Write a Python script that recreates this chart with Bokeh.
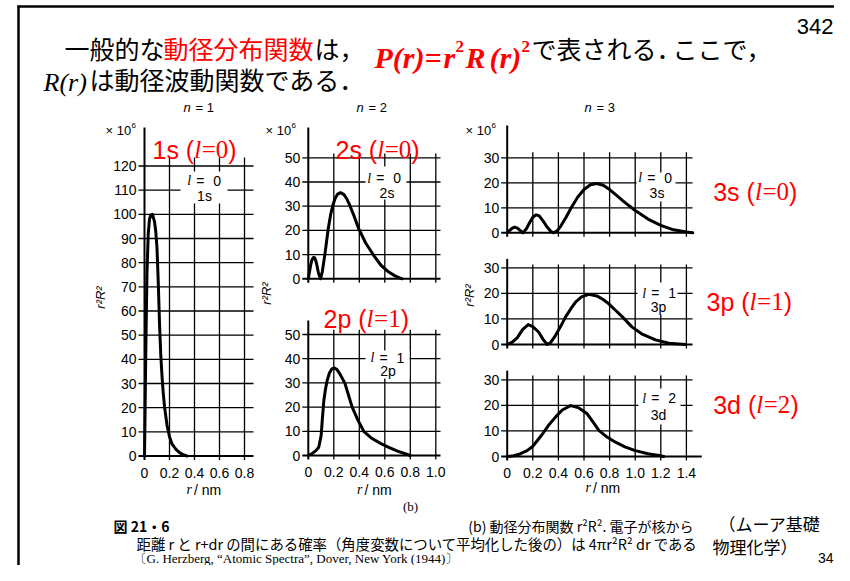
import math
from bokeh.plotting import figure
from bokeh.models import Range1d
from bokeh.embed import file_html
from bokeh.resources import INLINE
from bokeh.core.properties import value

# ---------------- data (r in nm, r^2R^2 in units of 10^6) ----------------
r_1s = [0, 0.005, 0.01, 0.02, 0.03, 0.04, 0.05, 0.064, 0.08, 0.09, 0.10, 0.11, 0.12, 0.13,
        0.14, 0.15, 0.16, 0.18, 0.20, 0.22, 0.25, 0.28, 0.31, 0.34]
P_1s = [0, 20, 42, 76, 92, 98, 99.7, 100, 97, 93, 86, 72, 55, 42,
        33, 26, 20.5, 12.8, 8, 5, 2.8, 1.4, 0.5, 0]

r_2s = [0, 0.01, 0.02, 0.03, 0.04, 0.05, 0.06, 0.07, 0.08, 0.096, 0.11, 0.13, 0.156, 0.175,
        0.192, 0.21, 0.23, 0.253, 0.28, 0.30, 0.326, 0.36, 0.396, 0.45, 0.514, 0.57, 0.631,
        0.68, 0.736]
P_2s = [0, 3, 6, 8, 8.8, 8.7, 7.3, 5, 2.3, 0, 3, 10, 20.6, 26.5,
        30.3, 33.2, 35, 35.6, 34.8, 33.2, 30.3, 25.8, 20.6, 14.8, 9.6, 5.6, 2.8,
        1.2, 0]

r_2p = [0, 0.03, 0.06, 0.082, 0.101, 0.11, 0.122, 0.135, 0.148, 0.165, 0.185, 0.205, 0.225,
        0.25, 0.286, 0.315, 0.344, 0.39, 0.435, 0.5, 0.57, 0.631, 0.7, 0.8]
P_2p = [0, 0.8, 2, 3.4, 8.3, 15, 22.7, 27.5, 31, 34, 35.8, 36.2, 35.5,
        33.5, 30, 25, 20, 14.5, 10, 7.0, 4.9, 3.4, 1.8, 0]

r_3s = [0, 0.02, 0.04, 0.058, 0.08, 0.1, 0.123, 0.15, 0.18, 0.2, 0.227, 0.25, 0.28, 0.31,
        0.34, 0.363, 0.39, 0.42, 0.46, 0.5, 0.55, 0.6, 0.65, 0.7, 0.75, 0.8, 0.85, 0.9,
        0.95, 1.0, 1.05, 1.1, 1.2, 1.3, 1.4, 1.45]
P_3s = [0, 1.0, 1.9, 2.3, 1.9, 1.0, 0, 1.6, 4.5, 6.2, 7.2, 6.8, 4.8, 2.4,
        0.6, 0, 0.8, 2.8, 6.2, 10.0, 14.2, 17.3, 19.2, 19.7, 19.0, 17.3, 15.2, 13.0,
        10.9, 8.9, 7.2, 5.5, 3.0, 1.2, 0.3, 0]

r_3p = [0, 0.04, 0.078, 0.12, 0.164, 0.2, 0.247, 0.28, 0.3125, 0.34, 0.377, 0.42, 0.455,
        0.5, 0.534, 0.58, 0.638, 0.7, 0.75, 0.794, 0.85, 0.9, 0.976, 1.05, 1.159, 1.263, 1.393]
P_3p = [0, 0.9, 2.6, 5.8, 7.8, 7.0, 4.8, 2.0, 0, 0.8, 3.5, 7.3, 10.7,
        14.2, 16.6, 18.6, 19.6, 19.0, 17.6, 15.9, 13.2, 10.8, 6.8, 4.2, 1.8, 0.5, 0]

r_3d = [0, 0.05, 0.1, 0.156, 0.2, 0.273, 0.32, 0.377, 0.43, 0.495, 0.56, 0.625, 0.67,
        0.716, 0.78, 0.846, 0.92, 1.0, 1.1, 1.185, 1.224]
P_3d = [0, 0.3, 1.0, 2.3, 4.0, 8.6, 12.0, 15.4, 18.2, 19.9, 19.0, 16.7, 13.5,
        10.2, 7.6, 5.6, 3.8, 2.3, 1.1, 0.4, 0]

y_ticks_1 = [0, 10, 20, 30, 40, 50, 60, 70, 80, 90, 100, 110, 120]
y_tick_labels_1 = ["0", "10", "20", "30", "40", "50", "60", "70", "80", "90", "100", "110", "120"]
x_ticks_1 = [0, 0.2, 0.4, 0.6, 0.8]
x_tick_labels_1 = ["0", "0.2", "0.4", "0.6", "0.8"]

y_ticks_2 = [0, 10, 20, 30, 40, 50]
y_tick_labels_2 = ["0", "10", "20", "30", "40", "50"]
x_ticks_2 = [0, 0.2, 0.4, 0.6, 0.8, 1.0]
x_tick_labels_2 = ["0", "0.2", "0.4", "0.6", "0.8", "1.0"]

y_ticks_3 = [0, 10, 20, 30]
y_tick_labels_3 = ["0", "10", "20", "30"]
x_ticks_3 = [0, 0.2, 0.4, 0.6, 0.8, 1.0, 1.2, 1.4]
x_tick_labels_3 = ["0", "0.2", "0.4", "0.6", "0.8", "1.0", "1.2", "1.4"]

# ---------------- canvas ----------------
SANS = value("Liberation Sans")
SERIF = value("Liberation Serif")
CJK = value("Noto Sans CJK JP")
RED = "#ff0000"

p = figure(width=834, height=565, x_range=Range1d(0, 834), y_range=Range1d(565, 0),
           output_backend="svg", toolbar_location=None, min_border=0,
           x_axis_location=None, y_axis_location=None,
           background_fill_color="white", border_fill_color="white")
p.outline_line_color = None
p.grid.visible = False


def txt(x, y, s, size, font=SANS, style="normal", color="black", align="left",
        baseline="middle", angle=0.0):
    p.text(x=[x], y=[y], text=[s], text_font=font, text_font_size=f"{size}px",
           text_font_style=style, text_color=color, text_align=align,
           text_baseline=baseline, angle=angle)


def make_sub(xs, xt, ys, yt):
    g = p.subplot(x_source=Range1d(*xs), y_source=Range1d(*ys),
                  x_target=Range1d(*xt), y_target=Range1d(*yt))
    sx = (xt[1] - xt[0]) / (xs[1] - xs[0])
    sy = (yt[0] - yt[1]) / (ys[1] - ys[0])
    return g, sx, sy


def draw_grid(g, sx, sy, xticks, yticks, x_end, vtop, ytop, axis_end=None):
    tx = 6.0 / sx
    ty = 4.0 / sy
    hy = [v for v in yticks if v != 0]
    g.segment(x0=[-tx] * len(hy), y0=hy, x1=[x_end] * len(hy), y1=hy,
              line_color="black", line_width=1.3)
    vx = [t for t in xticks if t != 0]
    g.segment(x0=vx, y0=[-ty] * len(vx), x1=vx, y1=[vtop] * len(vx),
              line_color="black", line_width=1.3)
    g.segment(x0=[0], y0=[-ty], x1=[0], y1=[ytop], line_color="black", line_width=2)
    g.segment(x0=[-tx], y0=[0], x1=[axis_end if axis_end else x_end], y1=[0],
              line_color="black", line_width=2)


def ylab(g, sx, yticks, labels):
    g.text(x=[-8.0 / sx] * len(yticks), y=yticks, text=labels, text_align="right",
           text_baseline="middle", text_font=SANS, text_font_size="14px", text_color="black")


def xlab(g, sy, xticks, labels):
    g.text(x=xticks, y=[-16.5 / sy] * len(xticks), text=labels, text_align="center",
           text_baseline="middle", text_font=SANS, text_font_size="14px", text_color="black")


# frame of the slide
p.segment(x0=[18], y0=[5], x1=[18], y1=[565], line_color="black", line_width=2.5)
p.segment(x0=[17], y0=[6], x1=[834], y1=[6], line_color="black", line_width=2.5)

# panels
g1, sx1, sy1 = make_sub((0, 0.8), (144, 244), (0, 120), (455.5, 165.5))
g2s, sx2, sy2s = make_sub((0, 1.0), (307.8, 435.3), (0, 50), (278.3, 157.3))
g2p, _, sy2p = make_sub((0, 1.0), (307.8, 435.3), (0, 50), (455, 334))
g3s, sx3, sy3s = make_sub((0, 1.4), (506.7, 685.9), (0, 30), (232.3, 157.3))
g3p, _, sy3p = make_sub((0, 1.4), (506.7, 685.9), (0, 30), (344, 267.3))
g3d, _, sy3d = make_sub((0, 1.4), (506.7, 685.9), (0, 30), (456, 379.3))

draw_grid(g1, sx1, sy1, x_ticks_1, y_ticks_1, 0.872, 123.5, 135.9)
draw_grid(g2s, sx2, sy2s, x_ticks_2, y_ticks_2, 1.037, 51.8, 62.5)
draw_grid(g2p, sx2, sy2p, x_ticks_2, y_ticks_2, 1.037, 52.0, 55.8)
draw_grid(g3s, sx3, sy3s, x_ticks_3, y_ticks_3, 1.448, 32.2, 42.9)
draw_grid(g3p, sx3, sy3p, x_ticks_3, y_ticks_3, 1.448, 31.3, 33.5)
draw_grid(g3d, sx3, sy3d, x_ticks_3, y_ticks_3, 1.448, 31.7, 33.6, axis_end=1.52)

ylab(g1, sx1, y_ticks_1, y_tick_labels_1)
ylab(g2s, sx2, y_ticks_2, y_tick_labels_2)
ylab(g2p, sx2, y_ticks_2, y_tick_labels_2)
ylab(g3s, sx3, y_ticks_3, y_tick_labels_3)
ylab(g3p, sx3, y_ticks_3, y_tick_labels_3)
ylab(g3d, sx3, y_ticks_3, y_tick_labels_3)
xlab(g1, sy1, x_ticks_1, x_tick_labels_1)
xlab(g2p, sy2p, x_ticks_2, x_tick_labels_2)
xlab(g3d, sy3d, x_ticks_3, x_tick_labels_3)

# white label boxes hiding the grid
boxes = [(180, 227, 171, 203), (365, 406, 166, 199), (365, 409, 350, 378),
         (636, 675, 172, 201), (637, 677, 282, 314), (638, 680, 388, 424)]
p.quad(left=[b[0] for b in boxes], right=[b[1] for b in boxes],
       top=[b[2] for b in boxes], bottom=[b[3] for b in boxes],
       fill_color="white", line_color=None)

# curves
for g, r, v in [(g1, r_1s, P_1s), (g2s, r_2s, P_2s), (g2p, r_2p, P_2p),
                (g3s, r_3s, P_3s), (g3p, r_3p, P_3p), (g3d, r_3d, P_3d)]:
    g.line(x=r, y=v, line_color="black", line_width=3, line_join="round", line_cap="round")

# orbital labels inside boxes
for xl, yl, digit, name, xc, yn in [(186.7, 180, "0", "1s", 204, 195),
                                    (366.7, 177.5, "0", "2s", 386.5, 192),
                                    (370, 357.3, "1", "2p", 387.5, 370),
                                    (637.7, 177.3, "0", "3s", 656.5, 192.5),
                                    (641.7, 292.5, "1", "3p", 658, 306),
                                    (641.7, 397.5, "2", "3d", 658, 414)]:
    txt(xl, yl, "l", 14, font=SERIF, style="italic")
    txt(xl + 9, yl, "=", 14)
    txt(xl + 26, yl, digit, 14)
    txt(xc, yn, name, 14, align="center")

# n = labels
for cx, nn in ((183, "1"), (356, "2"), (584, "3")):
    txt(cx, 107, "n", 13, style="italic")
    txt(cx + 12, 107, "= " + nn, 13)

# x 10^6
for xl in (105, 265, 465):
    txt(xl, 130, "\u00d7 10", 13)
    txt(xl + 26, 125, "6", 8)

# rotated axis titles
for cx, cy in ((100, 297), (266, 293), (469, 295)):
    txt(cx, cy, "r\u00b2R\u00b2", 13, style="italic", align="center", angle=math.pi / 2)

# r / nm
for cx, cy in ((197.5, 489), (368, 489), (596.5, 487)):
    txt(cx - 6, cy, "r", 14, font=SERIF, style="italic", align="right")
    txt(cx - 4, cy, "/ nm", 14)

txt(410, 506, "(b)", 13, font=SERIF, align="center")

# red orbital titles
for x0, yb, head in [(152, 149, "1s ("), (335, 149, "2s ("), (323, 318, "2p ("),
                     (712.7, 191, "3s ("), (706, 301, "3p ("), (712.7, 404, "3d (")]:
    w_head = 25 * (0.556 + (0.556 if head[1] in "pd" else 0.5) + 0.278 + 0.333)
    digit = {"s": "0", "p": "1", "d": "2"}[head[1]]
    txt(x0, yb, head, 25, color=RED, baseline="alphabetic")
    txt(x0 + w_head, yb, "l", 25, font=SERIF, style="italic", color=RED, baseline="alphabetic")
    txt(x0 + w_head + 7.5, yb, "=" + digit, 25, font=SERIF, color=RED, baseline="alphabetic")
    txt(x0 + w_head + 7.5 + 26.6, yb, ")", 25, color=RED, baseline="alphabetic")

# heading
txt(833, 26, "342", 22, align="right")
txt(64, 47, "一般的な", 25, font=CJK)
txt(163, 47, "動径分布関数", 25, font=CJK, color=RED)
txt(314, 47, "は，", 25, font=CJK)
txt(374, 57, "P(r)=", 30, font=SERIF, style="bold italic", color=RED, baseline="alphabetic")
txt(443, 57, "r", 30, font=SERIF, style="bold italic", color=RED, baseline="alphabetic")
txt(455, 46, "2", 17, font=SERIF, style="bold", color=RED, baseline="alphabetic")
txt(465, 57, "R", 30, font=SERIF, style="bold italic", color=RED, baseline="alphabetic")
txt(489, 57, "(r)", 30, font=SERIF, style="bold italic", color=RED, baseline="alphabetic")
txt(521, 46, "2", 17, font=SERIF, style="bold", color=RED, baseline="alphabetic")
txt(531, 47, "で表される．", 25, font=CJK)
txt(672, 47, "ここで，", 25, font=CJK)
txt(43, 82, "R(r)", 26, font=SERIF, style="italic", baseline="alphabetic")
txt(89, 78, "は動径波動関数である．", 25, font=CJK)

# caption
txt(113, 525, "図 21・6", 14, font=CJK, style="bold")
txt(693, 525, "(b) 動径分布関数 r²R². 電子が核から", 14, font=CJK, align="right")
txt(136, 543, "距離 r と r+dr の間にある確率（角度変数について平均化した後の）は 4πr²R² dr である",
    14.4, font=CJK)
txt(133, 558, "〔G. Herzberg, “Atomic Spectra”, Dover, New York (1944)〕", 13, font=SERIF)
txt(718, 523, "（ムーア基礎", 17, font=CJK)
txt(712, 546, "物理化学）", 17, font=CJK)
txt(833, 557, "34", 14, align="right")

open("out.html", "w").write(file_html(p, INLINE))
